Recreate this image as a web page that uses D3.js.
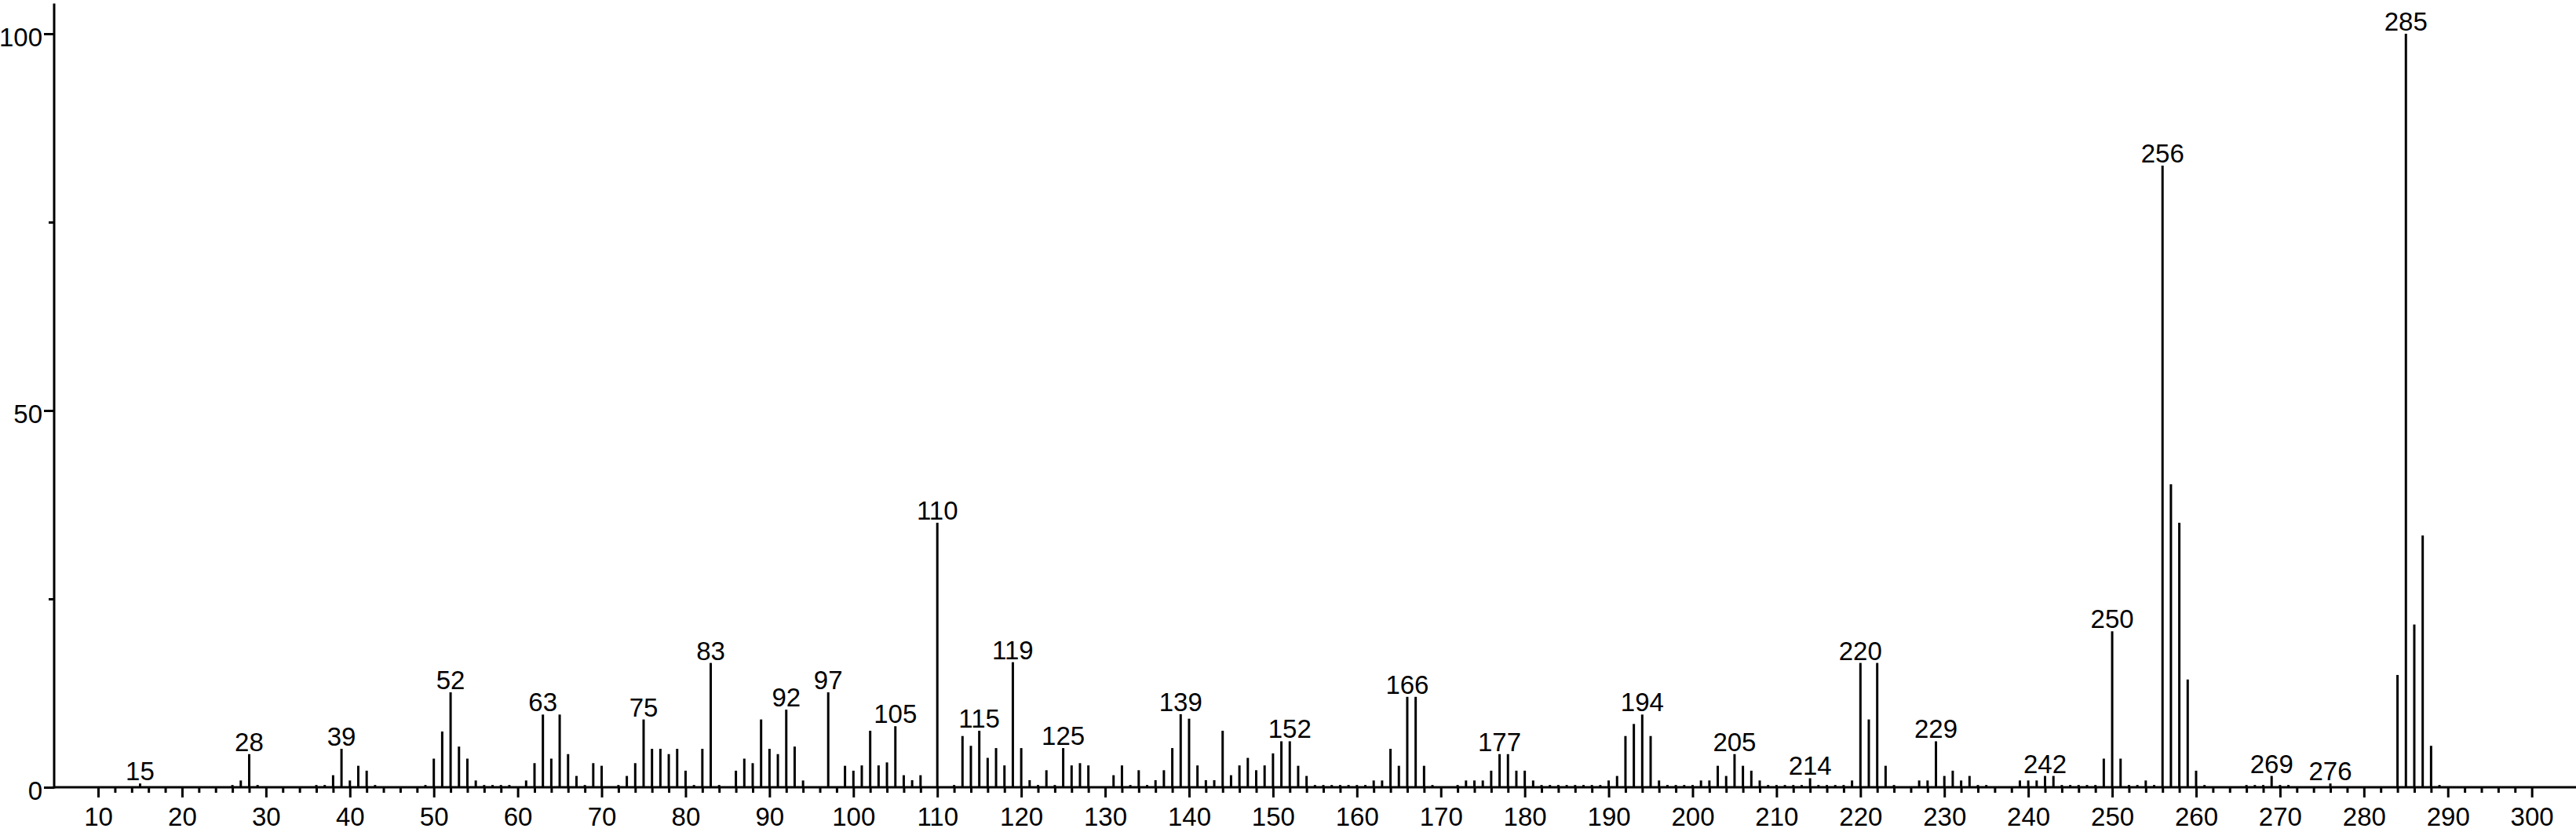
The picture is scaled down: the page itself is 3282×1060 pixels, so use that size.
<!DOCTYPE html>
<html>
<head>
<meta charset="utf-8">
<script src="https://cdn.jsdelivr.net/npm/d3@7"></script>
<style>
  html, body { margin: 0; padding: 0; background: #fff; }
  svg { display: block; }
  text { font-family: "Liberation Sans", Arial, sans-serif; fill: #000; }
</style>
</head>
<body>
<script>
// ---- data (m/z and relative intensity) ----
const masses = [
  15, 26, 27, 28, 29, 36, 37, 38, 39, 40, 41, 42, 43, 49,
  50, 51, 52, 53, 54, 55, 56, 57, 58, 59, 61, 62, 63, 64, 65, 66, 67, 68, 69,
  70, 72, 73, 74, 75, 76, 77, 78, 79, 80, 81, 82, 83, 84, 86, 87, 88, 89,
  90, 91, 92, 93, 94, 97, 99, 100, 101, 102, 103, 104, 105, 106, 107, 108,
  110, 112, 113, 114, 115, 116, 117, 118, 119, 120, 121, 122, 123, 124, 125,
  126, 127, 128, 131, 132, 133, 134, 135, 136, 137, 138, 139, 140, 141, 142,
  143, 144, 145, 146, 147, 148, 149, 150, 151, 152, 153, 154, 155, 156, 157,
  158, 159, 160, 161, 162, 163, 164, 165, 166, 167, 168, 169, 172, 173, 174,
  175, 176, 177, 178, 179, 180, 181, 182, 183, 184, 185, 186, 187, 188, 189,
  190, 191, 192, 193, 194, 195, 196, 197, 198, 199, 200, 201, 202, 203, 204,
  205, 206, 207, 208, 209, 210, 211, 212, 213, 214, 215, 216, 217, 218, 219,
  220, 221, 222, 223, 224, 227, 228, 229, 230, 231, 232, 233, 234, 235, 239,
  240, 241, 242, 243, 244, 245, 246, 247, 248, 249, 250, 251, 252, 253, 254,
  255, 256, 257, 258, 259, 260, 261, 266, 267, 268, 269, 270, 271, 276,
  284, 285, 286, 287, 288, 289
];
const intensities = [
  0.5, 0.3, 0.9, 4.4, 0.3, 0.3, 0.3, 1.6, 5.1, 0.9, 2.85, 2.2, 0.3, 0.3,
  3.8, 7.4, 12.6, 5.4, 3.8, 0.9, 0.3, 0.3, 0.3, 0.3, 0.9, 3.2, 9.65, 3.8, 9.65, 4.4, 1.5, 0.3, 3.2,
  2.85, 0.3, 1.5, 3.2, 9.0, 5.1, 5.1, 4.4, 5.1, 2.2, 0.3, 5.1, 16.5, 0.3, 2.2, 3.8, 3.2, 9.0,
  5.1, 4.4, 10.3, 5.4, 0.9, 12.6, 2.85, 2.2, 2.9, 7.5, 2.9, 3.3, 8.1, 1.6, 0.94, 1.6,
  35.1, 0.3, 6.8, 5.5, 7.5, 3.9, 5.2, 2.9, 16.6, 5.2, 0.94, 0.3, 2.26, 0.3, 5.2,
  2.9, 3.2, 2.9, 1.6, 2.9, 0.3, 2.26, 0.3, 0.94, 2.26, 5.2, 9.7, 9.1, 2.9, 0.94,
  0.94, 7.5, 1.6, 2.9, 3.9, 2.26, 2.9, 4.5, 6.1, 6.1, 2.85, 1.5, 0.3, 0.3, 0.3,
  0.3, 0.3, 0.3, 0.3, 0.9, 0.9, 5.1, 2.85, 12.0, 12.0, 2.85, 0.3, 0.3, 0.9, 0.9,
  0.9, 2.2, 4.4, 4.4, 2.2, 2.2, 0.9, 0.3, 0.3, 0.3, 0.3, 0.3, 0.3, 0.3, 0.3,
  0.9, 1.5, 6.8, 8.4, 9.65, 6.8, 0.9, 0.3, 0.3, 0.3, 0.3, 0.9, 0.9, 2.85, 1.5,
  4.4, 2.85, 2.2, 0.9, 0.3, 0.3, 0.3, 0.3, 0.3, 1.2, 0.3, 0.3, 0.3, 0.3, 0.9,
  16.5, 9.0, 16.5, 2.85, 0.3, 0.9, 0.9, 6.1, 1.5, 2.2, 0.9, 1.5, 0.3, 0.3, 0.9,
  0.9, 0.9, 1.5, 1.5, 0.3, 0.3, 0.3, 0.3, 0.3, 3.8, 20.7, 3.8, 0.3, 0.3, 0.9,
  0.3, 82.5, 40.2, 35.1, 14.3, 2.2, 0.3, 0.3, 0.3, 0.3, 1.5, 0.3, 0.3, 0.5,
  14.9, 100, 21.6, 33.4, 5.5, 0.3
];
const labeledMasses = [15, 28, 39, 52, 63, 75, 83, 92, 97, 105, 110, 115, 119, 125,
  139, 152, 166, 177, 194, 205, 214, 220, 229, 242, 250, 256, 269, 276, 285];
const xMajorTicks = d3.range(10, 301, 10);
const xMinorTicks = d3.range(12, 299, 2).filter(v => v % 10 !== 0);
const yMajorTicks = [0, 50, 100];
const yMinorTicks = [25, 75];

// ---- layout ----
const W = 3282, H = 1060;
const svg = d3.select("body").append("svg").attr("width", W).attr("height", H);
svg.append("rect").attr("width", W).attr("height", H).attr("fill", "#fff");

const x = d3.scaleLinear().domain([4.76, 305.27]).range([69, 3282]);
const y = d3.scaleLinear().domain([0, 100]).range([1003, 43]);
const FS = 33;

const peaks = masses.map((m, i) => ({ m, v: intensities[i] }));

// bars
svg.append("g").selectAll("line").data(peaks).join("line")
  .attr("x1", d => x(d.m)).attr("x2", d => x(d.m))
  .attr("y1", y(0)).attr("y2", d => y(d.v))
  .attr("stroke", "#000").attr("stroke-width", 3);

// x axis: minor ticks
const xMinor = svg.append("g").attr("transform", `translate(0,${y(0)})`)
  .call(d3.axisBottom(x).tickValues(xMinorTicks).tickSize(7).tickFormat(""));
xMinor.select(".domain").remove();
xMinor.selectAll(".tick line").attr("stroke", "#000").attr("stroke-width", 3);

// x axis: major ticks
const xMajor = svg.append("g").attr("transform", `translate(0,${y(0)})`)
  .call(d3.axisBottom(x).tickValues(xMajorTicks).tickSize(13).tickPadding(4).tickFormat(d3.format("d")));
xMajor.select(".domain").remove();
xMajor.selectAll(".tick line").attr("stroke", "#000").attr("stroke-width", 3);
xMajor.selectAll(".tick text")
  .attr("font-size", FS).attr("font-family", "Liberation Sans, Arial, sans-serif")
  .attr("fill", "#000").attr("dy", null).attr("y", 49);

// y axis: minor ticks
const yMinor = svg.append("g").attr("transform", `translate(${x.range()[0]},0)`)
  .call(d3.axisLeft(y).tickValues(yMinorTicks).tickSize(7).tickFormat(""));
yMinor.select(".domain").remove();
yMinor.selectAll(".tick line").attr("stroke", "#000").attr("stroke-width", 3);

// y axis: major ticks
const yMajor = svg.append("g").attr("transform", `translate(${x.range()[0]},0)`)
  .call(d3.axisLeft(y).tickValues(yMajorTicks).tickSize(13).tickPadding(2).tickFormat(d3.format("d")));
yMajor.select(".domain").remove();
yMajor.selectAll(".tick line").attr("stroke", "#000").attr("stroke-width", 3);
yMajor.selectAll(".tick text")
  .attr("font-size", FS).attr("font-family", "Liberation Sans, Arial, sans-serif")
  .attr("fill", "#000").attr("dy", null).attr("y", 15);

// axis lines
svg.append("line")
  .attr("x1", x.range()[0]).attr("x2", x.range()[1])
  .attr("y1", y(0)).attr("y2", y(0))
  .attr("stroke", "#000").attr("stroke-width", 3);
svg.append("line")
  .attr("x1", x.range()[0]).attr("x2", x.range()[0])
  .attr("y1", y(0) + 1.5).attr("y2", y(104))
  .attr("stroke", "#000").attr("stroke-width", 3);

// peak labels
const labeled = peaks.filter(d => labeledMasses.includes(d.m));
svg.append("g").selectAll("text").data(labeled).join("text")
  .attr("x", d => x(d.m)).attr("y", d => y(d.v) - 4)
  .attr("text-anchor", "middle").attr("font-size", FS)
  .text(d => d.m);
</script>
</body>
</html>
